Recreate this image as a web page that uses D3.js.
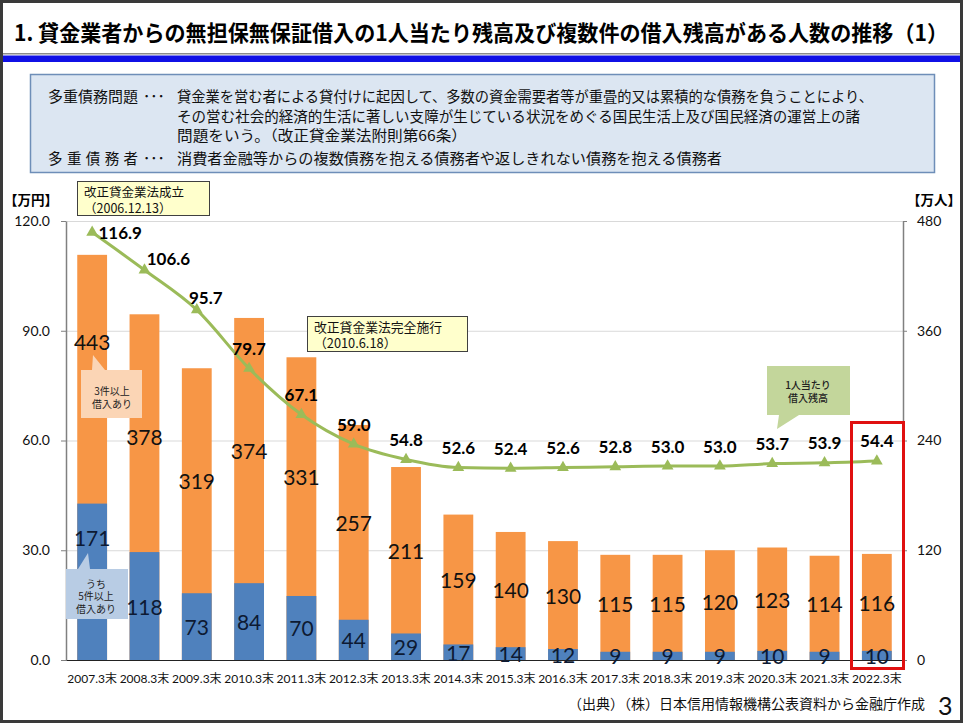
<!DOCTYPE html>
<html><head><meta charset="utf-8">
<script src="https://cdn.jsdelivr.net/npm/d3@7"></script>
<style>body{margin:0;background:#fff}svg{display:block}</style>
</head><body>
<script>
// ---- data ----
const categories = ["2007.3末","2008.3末","2009.3末","2010.3末","2011.3末","2012.3末","2013.3末","2014.3末","2015.3末","2016.3末","2017.3末","2018.3末","2019.3末","2020.3末","2021.3末","2022.3末"];
const borrowers3plus = [443,378,319,374,331,257,211,159,140,130,115,115,120,123,114,116]; // 万人
const borrowers5plus = [171,118,73,84,70,44,29,17,14,12,9,9,9,10,9,10];               // 万人
const balancePerPerson = [116.9,106.6,95.7,79.7,67.1,59.0,54.8,52.6,52.4,52.6,52.8,53.0,53.0,53.7,53.9,54.4]; // 万円
const leftTicks = [0,30,60,90,120];
const rightTicks = [0,120,240,360,480];
const titleText = "1. 貸金業者からの無担保無保証借入の1人当たり残高及び複数件の借入残高がある人数の推移（1）";
const infoLines = [
  ["多重債務問題","貸金業を営む者による貸付けに起因して、多数の資金需要者等が重畳的又は累積的な債務を負うことにより、"],
  ["","その営む社会的経済的生活に著しい支障が生じている状況をめぐる国民生活上及び国民経済の運営上の諸"],
  ["","問題をいう。（改正貸金業法附則第66条）"],
  ["多重債務者","消費者金融等からの複数債務を抱える債務者や返しきれない債務を抱える債務者"]
];
const sourceText = "（出典）（株）日本信用情報機構公表資料から金融庁作成";

// ---- layout ----
const W = 963, H = 723;
const L = 66, R = 903, T = 221, B = 660;
const NUM = "Lato, 'Noto Sans CJK JP', sans-serif";
const JP = "'Noto Sans CJK JP', sans-serif";
const ORANGE = "#F79646", BLUE = "#4F81BD", GREEN = "#9BBB59";

const svg = d3.select("body").append("svg").attr("width", W).attr("height", H);
svg.append("rect").attr("width", W).attr("height", H).attr("fill", "#fff");

// title
svg.append("text").attr("x", 14).attr("y", 31).attr("dominant-baseline", "central")
  .attr("font-family", JP).attr("font-weight", 700).attr("font-size", 22)
  .attr("textLength", 934).attr("lengthAdjust", "spacingAndGlyphs").attr("fill", "#000").text(titleText);
svg.append("rect").attr("x", 0).attr("y", 53).attr("width", W).attr("height", 1.5).attr("fill", "#8a8a8a");
svg.append("rect").attr("x", 0).attr("y", 55.5).attr("width", W).attr("height", 6.5).attr("fill", "#1010E6");

// info box
svg.append("rect").attr("x", 30.5).attr("y", 74.5).attr("width", 904).attr("height", 98)
  .attr("fill", "#DCE6F2").attr("stroke", "#6E8EB8").attr("stroke-width", 1.5);
const infoY = [95, 115, 134, 157];
const bodyEnds = [873, 860, 467, 722];
infoLines.forEach((ln, i) => {
  const g = svg.append("g").attr("font-family", JP).attr("font-size", 14.5).attr("fill", "#111");
  if (ln[0]) {
    const t = g.append("text").attr("x", 48).attr("y", infoY[i]).attr("dominant-baseline", "central").text(ln[0]);
    t.attr("textLength", 90).attr("lengthAdjust", i === 3 ? "spacing" : "spacingAndGlyphs");
    g.append("text").attr("x", 143).attr("y", infoY[i]).attr("dominant-baseline", "central").text("･･･");
  }
  g.append("text").attr("x", 177).attr("y", infoY[i]).attr("dominant-baseline", "central")
    .attr("textLength", bodyEnds[i] - 177).attr("lengthAdjust", "spacingAndGlyphs").text(ln[1]);
});

// scales
const x = d3.scaleBand().domain(categories).range([L, R]).paddingInner(0.43).paddingOuter(0.215);
const yL = d3.scaleLinear().domain([0, 120]).range([B, T]);
const yR = d3.scaleLinear().domain([0, 480]).range([B, T]);

// gridlines
svg.append("g").selectAll("line").data(leftTicks.filter(d => d > 0)).join("line")
  .attr("x1", L).attr("x2", R).attr("y1", d => yL(d) + 0.5).attr("y2", d => yL(d) + 0.5)
  .attr("stroke", "#D9D9D9").attr("stroke-width", 1);

// bars
const bw = x.bandwidth();
svg.append("g").selectAll("rect").data(borrowers3plus).join("rect")
  .attr("x", (d, i) => x(categories[i])).attr("width", bw)
  .attr("y", d => yR(d)).attr("height", d => B - yR(d)).attr("fill", ORANGE);
svg.append("g").selectAll("rect").data(borrowers5plus).join("rect")
  .attr("x", (d, i) => x(categories[i])).attr("width", bw)
  .attr("y", d => yR(d)).attr("height", d => B - yR(d)).attr("fill", BLUE);

// axes
const axL = svg.append("g").attr("transform", `translate(${L},0)`)
  .call(d3.axisLeft(yL).tickValues(leftTicks).tickFormat(d3.format(".1f")).tickSize(5).tickSizeOuter(0).tickPadding(11));
const axR = svg.append("g").attr("transform", `translate(${R},0)`)
  .call(d3.axisRight(yR).tickValues(rightTicks).tickFormat(d3.format("d")).tickSize(4).tickSizeOuter(0).tickPadding(10));
[axL, axR].forEach(a => {
  a.select(".domain").attr("stroke", "#808080").attr("stroke-width", 1.5);
  a.selectAll(".tick line").attr("stroke", "#808080");
  a.selectAll(".tick text").attr("font-family", NUM).attr("font-size", 14).attr("fill", "#111");
});
const axB = svg.append("g").attr("transform", `translate(0,${B})`)
  .call(d3.axisBottom(x).tickSize(0).tickPadding(14));
axB.select(".domain").attr("stroke", "#222").attr("stroke-width", 1.2);
axB.selectAll(".tick text").attr("font-family", NUM).attr("font-size", 12).attr("fill", "#111");

// units
svg.append("text").attr("x", 4).attr("y", 199).attr("dominant-baseline", "central")
  .attr("font-family", JP).attr("font-weight", 700).attr("font-size", 13.5).text("【万円】");
svg.append("text").attr("x", 907).attr("y", 199).attr("dominant-baseline", "central")
  .attr("font-family", JP).attr("font-weight", 700).attr("font-size", 13.5).text("【万人】");

// bar labels
const orangeShift = i => (i === 0 ? -38 : i === 1 ? 3 : 0);
svg.append("g").selectAll("text").data(borrowers3plus).join("text")
  .attr("x", (d, i) => x(categories[i]) + bw / 2)
  .attr("y", (d, i) => (yR(d) + yR(borrowers5plus[i])) / 2 + orangeShift(i))
  .attr("text-anchor", "middle").attr("dominant-baseline", "central")
  .attr("font-family", NUM).attr("font-size", 21).attr("fill", "#111").text(d => d);

// line
const cx = i => x(categories[i]) + bw / 2;
svg.append("path").datum(balancePerPerson)
  .attr("d", d3.line().x((d, i) => cx(i)).y(d => yL(d)).curve(d3.curveMonotoneX))
  .attr("fill", "none").attr("stroke", GREEN).attr("stroke-width", 3);
svg.append("g").selectAll("path").data(balancePerPerson).join("path")
  .attr("transform", (d, i) => `translate(${cx(i)},${yL(d)})`)
  .attr("d", d3.symbol(d3.symbolTriangle).size(60)).attr("fill", GREEN);
const lblOff = i => i === 0 ? [28, 0] : i === 1 ? [24, -12] : i === 2 ? [9, -12] : [0, -20];
svg.append("g").selectAll("text").data(balancePerPerson).join("text")
  .attr("x", (d, i) => cx(i) + lblOff(i)[0]).attr("y", (d, i) => yL(d) + lblOff(i)[1])
  .attr("text-anchor", "middle").attr("dominant-baseline", "central")
  .attr("font-family", NUM).attr("font-weight", 700).attr("font-size", 17).attr("fill", "#000")
  .text(d => d.toFixed(1));

// callouts
function yellowNote(x0, y0, w, h, lines, fs) {
  svg.append("rect").attr("x", x0 + 0.5).attr("y", y0 + 0.5).attr("width", w).attr("height", h)
    .attr("fill", "#FFFFCC").attr("stroke", "#404040").attr("stroke-width", 1);
  lines.forEach((t, k) => svg.append("text").attr("x", x0 + 7).attr("y", y0 + 10 + k * 16)
    .attr("dominant-baseline", "central").attr("font-family", JP).attr("font-size", fs).attr("fill", "#111").text(t));
}
yellowNote(77, 181, 132, 34, ["改正貸金業法成立", "（2006.12.13）"], 12.5);
yellowNote(307, 316, 160, 35, ["改正貸金業法完全施行", "（2010.6.18）"], 12.8);

function bubble(pts, fill, lines, tx, ty0, dy, fs, fw) {
  svg.append("path").attr("d", "M" + pts.map(p => p.join(",")).join("L") + "Z").attr("fill", fill);
  lines.forEach((t, k) => svg.append("text").attr("x", tx).attr("y", ty0 + k * dy)
    .attr("text-anchor", "middle").attr("dominant-baseline", "central")
    .attr("font-family", JP).attr("font-size", fs).attr("font-weight", fw).attr("fill", "#222").text(t));
}
bubble([[81,370],[92,370],[93,355],[105,370],[142,370],[142,418],[81,418]], "#FBD5B5",
  ["3件以上", "借入あり"], 112, 390, 13, 10, 400);
bubble([[66,569],[78,569],[88,553],[90,569],[128,569],[128,619],[66,619]], "#B8CCE4",
  ["うち", "5件以上", "借入あり"], 96, 583, 12.5, 10, 400);
bubble([[767,366],[850,366],[850,415],[799,415],[777,429],[779,415],[767,415]], "#C3D69B",
  ["1人当たり", "借入残高"], 808, 384, 13.5, 10, 500);

// blue bar labels (drawn above the blue callout, as in the reference)
svg.append("g").selectAll("text").data(borrowers5plus).join("text")
  .attr("x", (d, i) => x(categories[i]) + bw / 2)
  .attr("y", (d, i) => (yR(d) + B) / 2 + (i === 0 ? -44 : 0))
  .attr("text-anchor", "middle").attr("dominant-baseline", "central")
  .attr("font-family", NUM).attr("font-size", 21).attr("fill", "#0d1a33").text(d => d);

// highlight box
svg.append("rect").attr("x", 851.5).attr("y", 422.5).attr("width", 52).attr("height", 246)
  .attr("fill", "none").attr("stroke", "#E01010").attr("stroke-width", 3);

// source & page
svg.append("text").attr("x", 568).attr("y", 703).attr("dominant-baseline", "central")
  .attr("font-family", JP).attr("font-size", 14).attr("textLength", 357).attr("lengthAdjust", "spacingAndGlyphs")
  .attr("fill", "#111").text(sourceText);
svg.append("text").attr("x", 938).attr("y", 705).attr("dominant-baseline", "central")
  .attr("font-family", NUM).attr("font-size", 25).attr("fill", "#111").text("3");

// frame
svg.append("rect").attr("x", 1.5).attr("y", 1.5).attr("width", W - 3).attr("height", H - 3)
  .attr("fill", "none").attr("stroke", "#3a3a3a").attr("stroke-width", 3);
</script>
</body></html>
